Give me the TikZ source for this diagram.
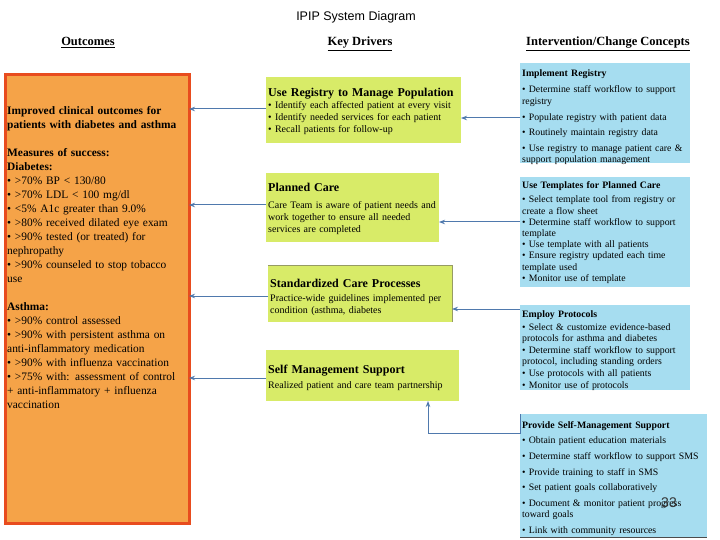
\documentclass[tikz,border=0pt]{standalone}
\usepackage{fontspec}
\setmainfont{Liberation Serif}
\newfontfamily\sansf{Liberation Sans}
\usetikzlibrary{arrows.meta}
\definecolor{ofill}{RGB}{245,163,72}
\definecolor{odraw}{RGB}{232,76,30}
\definecolor{gfill}{RGB}{216,235,104}
\definecolor{bfill}{RGB}{166,221,240}
\definecolor{arrc}{RGB}{79,121,173}
\definecolor{gedge}{RGB}{150,155,100}
\begin{document}
\begin{tikzpicture}[x=1pt,y=-1pt,
  box/.style={anchor=north west,inner sep=0pt,outer sep=0pt},
  obox/.style={box,fill=ofill,draw=odraw,line width=3pt},
  gbox/.style={box,fill=gfill},
  bbox/.style={box,fill=bfill},
  txt/.style={anchor=base west,inner sep=0pt,text width=250pt,align=left},
  otxt/.style={txt,font=\fontsize{11.4}{14}\selectfont},
  gtitle/.style={txt,font=\fontsize{12}{14}\selectfont\bfseries},
  gtxt/.style={txt,font=\fontsize{10}{12}\selectfont},
  btxt/.style={txt,font=\fontsize{9.8}{11.2}\selectfont},
  head/.style={anchor=base,inner sep=0pt,font=\fontsize{12.5}{14}\selectfont\bfseries},
  arr/.style={draw=arrc,line width=1pt,-{Stealth[length=6pt,width=4.5pt]}}]
\useasboundingbox (0,0) rectangle (720,540);
\fill[white] (0,0) rectangle (720,540);

% titles
\node[anchor=base,inner sep=0pt,font=\sansf\fontsize{12.5}{14}\selectfont] (title) at (356,21) {IPIP System Diagram};
\node[head] (h1) at (88,46) {\underline{Outcomes}};
\node[head] (h2) at (360,46) {\underline{Key Drivers}};
\node[head] (h3) at (608,46) {\underline{Intervention/Change Concepts}};

% outcomes
\node[obox,minimum width=184pt,minimum height=448pt] (o) at (5,75) {};
\node[otxt] (ot) at (7,115) {{\bfseries Improved clinical outcomes for\\
patients with diabetes and asthma}\\[14pt]
{\bfseries Measures of success:\\
Diabetes:}\\
• >70\% BP < 130/80\\
• >70\% LDL < 100 mg/dl\\
• <5\% A1c greater than 9.0\%\\
• >80\% received dilated eye exam\\
• >90\% tested (or treated) for\\
nephropathy\\
• >90\% counseled to stop tobacco\\
use\\[14pt]
{\bfseries Asthma:}\\
• >90\% control assessed\\
• >90\% with persistent asthma on\\
anti-inflammatory medication\\
• >90\% with influenza vaccination\\
• >75\% with: assessment of control\\
+ anti-inflammatory + influenza\\
vaccination};

% key drivers
\node[gbox,minimum width=195pt,minimum height=66pt] (g1) at (266,77) {};
\node[gtitle] (g1t) at (268,97) {Use Registry to Manage Population};
\node[gtxt] (g1b) at (268,108.5) {• Identify each affected patient at every visit\\
• Identify needed services for each patient\\
• Recall patients for follow-up};

\node[gbox,minimum width=173pt,minimum height=69pt] (g2) at (266,173) {};
\node[gtitle] (g2t) at (268,192) {Planned Care};
\node[gtxt] (g2b) at (268,209) {Care Team is aware of patient needs and\\
work together to ensure all needed\\
services are completed};

\node[gbox,minimum width=184pt,minimum height=57pt] (g3) at (268,265) {};
\draw[gedge,line width=0.8pt] (g3.north west) -- (g3.north east) -- (g3.south east);
\node[gtitle] (g3t) at (270,287) {Standardized Care Processes};
\node[gtxt] (g3b) at (270,301) {Practice-wide guidelines implemented per\\
condition (asthma, diabetes};

\node[gbox,minimum width=193pt,minimum height=51pt] (g4) at (266,350) {};
\node[gtitle] (g4t) at (268,373) {Self Management Support};
\node[gtxt] (g4b) at (268,388) {Realized patient and care team partnership};

% interventions
\node[bbox,minimum width=170pt,minimum height=100pt] (b1) at (520,63) {};
\node[btxt] (b1t) at (522,77) {{\bfseries Implement Registry}\\[4.8pt]
• Determine staff workflow to support\\
registry\\[4.8pt]
• Populate registry with patient data\\[3.8pt]
• Routinely maintain registry data\\[4.8pt]
• Use registry to manage patient care \&\\
support population management};

\node[bbox,minimum width=170pt,minimum height=110pt] (b2) at (520,177) {};
\node[btxt] (b2t) at (522,189) {{\bfseries Use Templates for Planned Care}\\[2.8pt]
• Select template tool from registry or\\
create a flow sheet\\
• Determine staff workflow to support\\
template\\
• Use template with all patients\\
• Ensure registry updated each time\\
template used\\
• Monitor use of template};

\node[bbox,minimum width=170pt,minimum height=85pt] (b3) at (520,305) {};
\node[btxt,font=\fontsize{9.8}{11.6}\selectfont] (b3t) at (522,317) {{\bfseries Employ Protocols}\\[1.5pt]
• Select \& customize evidence-based\\
protocols for asthma and diabetes\\
• Determine staff workflow to support\\
protocol, including standing orders\\
• Use protocols with all patients\\
• Monitor use of protocols};

\node[bbox,minimum width=187pt,minimum height=123pt] (b4) at (520,414) {};
\draw[gray!60!black,line width=0.8pt] (b4.south west) -- (b4.south east);
\node[btxt] (b4t) at (522,428) {{\bfseries Provide Self-Management Support}\\[4.3pt]
• Obtain patient education materials\\[4.6pt]
• Determine staff workflow to support SMS\\[4.6pt]
• Provide training to staff in SMS\\[4.6pt]
• Set patient goals collaboratively\\[4.6pt]
• Document \& monitor patient progress\\
toward goals\\[4.6pt]
• Link with community resources};

\node[anchor=center,inner sep=0pt,font=\sansf\fontsize{14}{16}\selectfont,text=black!80] (pg) at (669,503) {33};

% connectors
\draw[arr] (g1.west |- 0,109) -- (o.east |- 0,109);
\draw[arr] (g2.west |- 0,205) -- (o.east |- 0,205);
\draw[arr] (g3.west |- 0,296) -- (o.east |- 0,296);
\draw[arr] (g4.west |- 0,378) -- (o.east |- 0,378);

\draw[arr] (b1.west |- 0,118) -- (g1.east |- 0,118);
\draw[arr] (b2.west |- 0,222) -- (g2.east |- 0,222);
\draw[arr] (b3.west |- 0,309) -- (g3.east |- 0,309);
\draw[arr] (b4.north west) -- (b4.west |- 0,433) -| (g4.south -| 428,0);
\end{tikzpicture}
\end{document}
